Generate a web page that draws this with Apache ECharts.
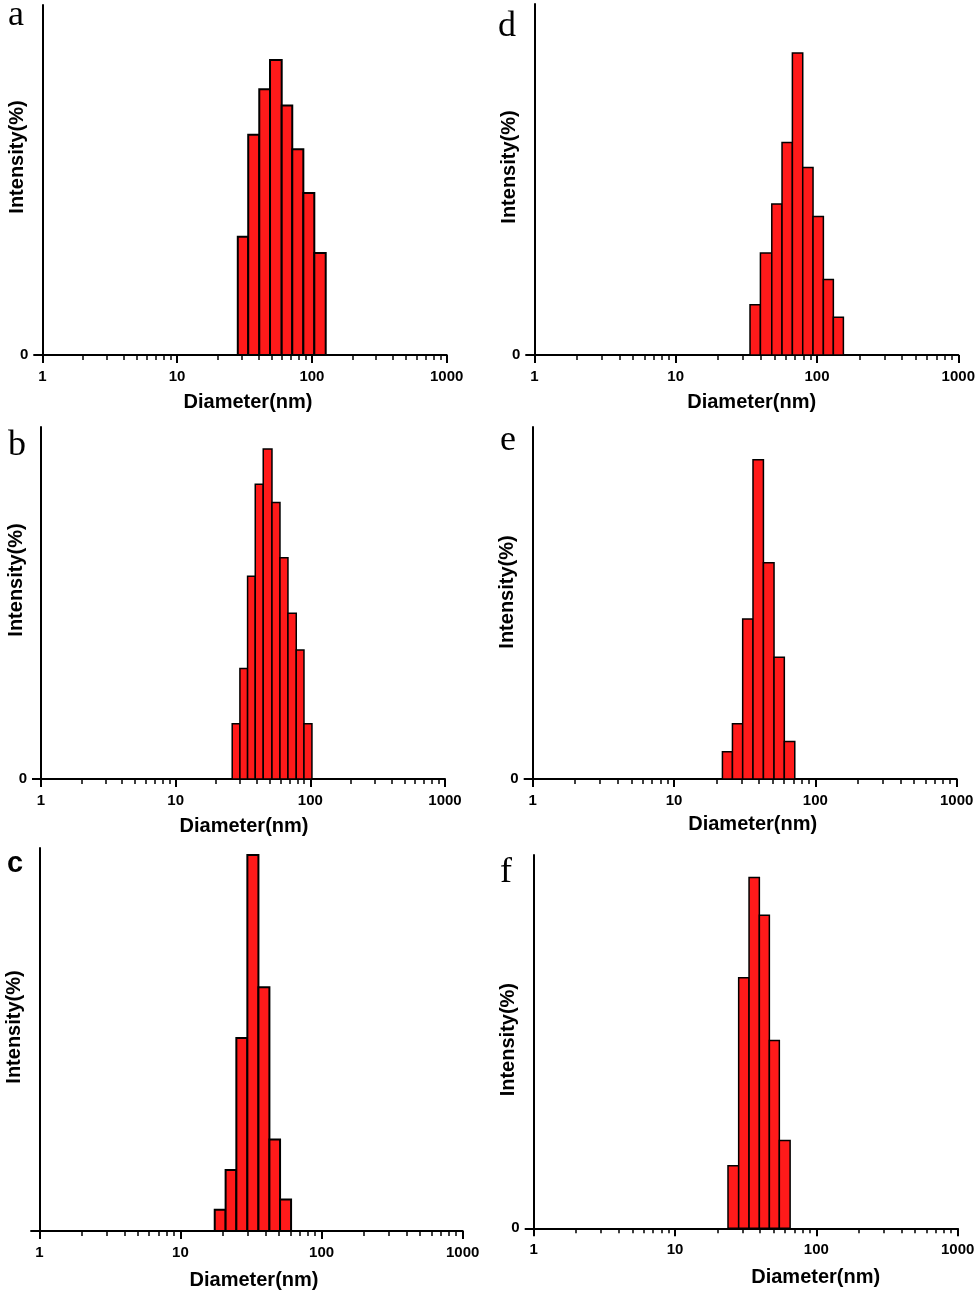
<!DOCTYPE html>
<html><head><meta charset="utf-8">
<script src="https://cdn.jsdelivr.net/npm/echarts@6/dist/echarts.min.js"></script>
<style>html,body{margin:0;padding:0;background:#fff}#c{width:980px;height:1296px}</style>
</head><body><div id="c"></div>
<script>
// ---- data ----
const panelLetters = ['a', 'b', 'c', 'd', 'e', 'f'];
const majorTicks = [1, 10, 100, 1000];
const minorTicks = [2, 3, 4, 5, 6, 7, 8, 9, 20, 30, 40, 50, 60, 70, 80, 90, 200, 300, 400, 500, 600, 700, 800, 900];
const xTitle = 'Diameter(nm)';
const yTitle = 'Intensity(%)';

const edgesA = [28.2, 33.7, 40.7, 48.9, 59.7, 71.5, 86.4, 104.2, 126.6];
const valuesA = [7.3, 13.6, 16.4, 18.2, 15.4, 12.7, 10.0, 6.3];
const edgesB = [26.3, 30.0, 34.2, 39.0, 44.7, 51.9, 59.5, 68.2, 78.6, 89.7, 102.8];
const valuesB = [3.0, 6.0, 11.0, 16.0, 17.9, 15.0, 12.0, 9.0, 7.0, 3.0];
const edgesC = [17.5, 20.9, 24.9, 29.8, 35.7, 42.7, 50.8, 60.8];
const valuesC = [2.1, 6.0, 19.0, 37.0, 24.0, 9.0, 3.1];
const edgesD = [33.6, 39.8, 47.9, 56.6, 67.0, 79.3, 93.8, 111.0, 130.6, 153.8];
const valuesD = [4.0, 8.1, 12.0, 16.9, 24.0, 14.9, 11.0, 6.0, 3.0];
const edgesE = [22.0, 25.9, 30.6, 36.2, 42.9, 51.0, 60.3, 71.5];
const valuesE = [2.9, 5.9, 17.1, 34.1, 23.1, 13.0, 4.0];
const edgesF = [23.7, 28.2, 33.4, 39.5, 46.5, 54.7, 65.2];
const valuesF = [5.0, 20.0, 28.0, 25.0, 15.0, 7.0];
const yMaxes = [21.6, 19.1, 37.7, 27.9, 37.6, 29.8];

const allEdges = [edgesA, edgesB, edgesC, edgesD, edgesE, edgesF];
const allValues = [valuesA, valuesB, valuesC, valuesD, valuesE, valuesF];

// ---- layout / style ----
const layout = [
  { grid: [42.3, 5, 404.4, 350], xGap: 37, xShift: 3.5, yShift: 23, zero: true, lw: 2.0, letter: [8, 28], serif: true },
  { grid: [41, 427, 404, 352], xGap: 37, xShift: 1, yShift: 23, zero: true, lw: 1.5, letter: [8, 458], serif: true },
  { grid: [39.3, 848, 423.4, 383], xGap: 39, xShift: 3, yShift: 12.5, zero: false, lw: 2.0, letter: [7, 874], serif: false },
  { grid: [534.3, 4, 424, 351], xGap: 37, xShift: 5.4, yShift: 12.5, zero: true, lw: 1.5, letter: [498, 39], serif: true },
  { grid: [532.7, 427, 424, 352], xGap: 35, xShift: 8, yShift: 11, zero: true, lw: 1.5, letter: [500, 453], serif: true },
  { grid: [533.7, 855, 424, 373.3], xGap: 39, xShift: 70, yShift: 2, zero: true, lw: 1.5, letter: [500, 885], serif: true }
];

const SANS = 'Liberation Sans';
const SERIF = '"Liberation Serif", "Times New Roman", serif';
const BAR_FILL = '#ff1a1a';

const grids = [], xAxes = [], yAxes = [], series = [], graphics = [];

layout.forEach((L, i) => {
  const [left, top, width, height] = L.grid;
  grids.push({ left, top, width, height, containLabel: false, outerBoundsMode: 'none' });
  grids.push({ left, top, width, height, containLabel: false, outerBoundsMode: 'none' });
  const g = i * 2;

  const xs = L.xShift * 2;
  xAxes.push({
    type: 'log', logBase: 10, gridIndex: g, min: 1, max: 1000,
    axisLine: { show: true, lineStyle: { color: '#000', width: 2 } },
    axisTick: { show: true, customValues: majorTicks, length: 8, lineStyle: { color: '#000', width: 2 } },
    axisLabel: {
      show: true, margin: 14, color: '#000',
      fontSize: 15, fontWeight: 'bold', fontFamily: SANS,
      formatter: v => String(Math.round(v))
    },
    splitLine: { show: false },
    name: xTitle, nameLocation: 'middle', nameGap: L.xGap, nameMoveOverlap: false,
    nameTextStyle: {
      color: '#000', fontSize: 20, fontWeight: 'bold', fontFamily: SANS,
      padding: [0, 0, 0, xs]
    }
  });
  xAxes.push({
    type: 'log', logBase: 10, gridIndex: g + 1, min: 1, max: 1000,
    axisLine: { show: false },
    axisTick: { show: true, customValues: minorTicks, length: 5, lineStyle: { color: '#000', width: 1.5 } },
    axisLabel: { show: false },
    splitLine: { show: false }
  });

  const ys = L.yShift * 2;
  yAxes.push({
    type: 'value', gridIndex: g, min: 0, max: yMaxes[i], interval: yMaxes[i],
    axisLine: { show: true, lineStyle: { color: '#000', width: 2 } },
    axisTick: { show: true, customValues: [0], length: 9, lineStyle: { color: '#000', width: 2 } },
    axisLabel: {
      show: L.zero, margin: 14, color: '#000',
      fontSize: 15, fontWeight: 'bold', fontFamily: SANS,
      formatter: v => (v === 0 ? '0' : '')
    },
    splitLine: { show: false },
    name: yTitle, nameLocation: 'middle', nameGap: 15, nameMoveOverlap: false,
    nameTextStyle: {
      color: '#000', fontSize: 20, fontWeight: 'bold', fontFamily: SANS,
      padding: [0, 0, 0, ys]
    }
  });
  yAxes.push({ type: 'value', gridIndex: g + 1, min: 0, max: 1, show: false });

  const edges = allEdges[i], vals = allValues[i];
  const data = vals.map((v, k) => [edges[k], edges[k + 1], v]);
  const lw = L.lw;
  series.push({
    type: 'custom',
    xAxisIndex: g, yAxisIndex: g,
    encode: { x: [0, 1], y: 2 },
    data,
    z: 3,
    renderItem: (params, api) => {
      const p0 = api.coord([api.value(0), api.value(2)]);
      const p1 = api.coord([api.value(1), 0]);
      return {
        type: 'rect',
        shape: { x: p0[0], y: p0[1], width: p1[0] - p0[0], height: p1[1] - p0[1] },
        style: { fill: BAR_FILL, stroke: '#000', lineWidth: lw }
      };
    }
  });

  graphics.push({
    type: 'text', x: L.letter[0], y: L.letter[1] - (L.serif ? 12 : 10),
    style: {
      text: panelLetters[i],
      font: L.serif ? ('36px ' + SERIF) : ('bold 29px "Liberation Sans", sans-serif'),
      fill: '#000', align: 'left', verticalAlign: 'middle'
    }
  });
});

const chart = echarts.init(document.getElementById('c'), null, { renderer: 'canvas' });
chart.setOption({
  backgroundColor: '#fff',
  animation: false,
  grid: grids,
  xAxis: xAxes,
  yAxis: yAxes,
  series,
  graphic: graphics
});
</script>
</body></html>
